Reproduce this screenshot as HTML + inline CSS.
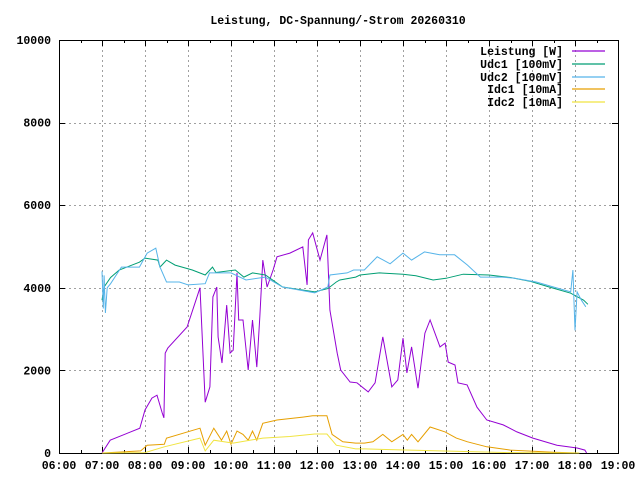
<!DOCTYPE html>
<html><head><meta charset="utf-8">
<style>
html,body{margin:0;padding:0;background:#fff;}
svg{display:block;}
text{font-family:"Liberation Mono",monospace;font-weight:bold;font-size:11.5px;fill:#000;}
</style></head>
<body>
<svg id="chart" width="640" height="480" xmlns="http://www.w3.org/2000/svg">
<text x="338" y="24" text-anchor="middle">Leistung, DC-Spannung/-Strom 20260310</text>
<g id="grid"></g>
<g id="axes"></g>
<g id="series"></g>
<g id="legend"></g>
</svg>
<script>
const yTicks=[0,2000,4000,6000,8000,10000];
const xTickHours=[6,7,8,9,10,11,12,13,14,15,16,17,18,19];
const xTickLabels=["06:00","07:00","08:00","09:00","10:00","11:00","12:00","13:00","14:00","15:00","16:00","17:00","18:00","19:00"];
const seriesNames=["Leistung [W]","Udc1 [100mV]","Udc2 [100mV]","Idc1 [10mA]","Idc2 [10mA]"];
const seriesColors=["#9400d3","#009e73","#56b4e9","#e69f00","#f0e442"];

const pT=[7.0,7.19,7.88,8.0,8.16,8.28,8.4,8.44,8.47,8.53,8.98,9.28,9.4,9.51,9.58,9.67,9.7,9.79,9.9,9.98,10.05,10.14,10.18,10.28,10.4,10.5,10.6,10.67,10.74,10.84,10.98,11.07,11.37,11.67,11.77,11.8,11.9,12.07,12.23,12.3,12.47,12.55,12.77,12.93,13.19,13.35,13.53,13.74,13.88,14.0,14.09,14.2,14.35,14.51,14.63,14.86,14.98,15.05,15.21,15.28,15.49,15.72,15.95,16.33,16.65,17.02,17.58,18.05,18.23,18.27];
const pV=[0,310,600,1040,1330,1400,970,850,2420,2540,3050,4000,1230,1600,3780,4020,2810,2180,3580,2420,2490,4360,3220,3220,2010,3220,2080,3290,4670,4020,4430,4750,4840,4990,4070,5160,5330,4670,5280,3460,2420,2010,1720,1700,1480,1700,2810,1600,1770,2780,1940,2570,1570,2900,3220,2570,2660,2200,2130,1700,1650,1110,800,680,510,360,190,120,70,0];

const u1T=[7.0,7.05,7.2,7.4,7.87,8.0,8.3,8.35,8.5,8.7,9.1,9.4,9.57,9.65,10.1,10.3,10.5,10.8,11.2,11.95,12.25,12.45,12.53,12.9,13.0,13.45,14.0,14.3,14.7,15.0,15.4,16.0,16.5,16.95,17.4,17.9,18.2,18.3];
const u1V=[3700,4020,4250,4430,4620,4720,4670,4500,4670,4550,4430,4310,4500,4370,4430,4260,4360,4310,4020,3900,3980,4140,4190,4260,4310,4360,4330,4290,4190,4230,4330,4310,4250,4160,4020,3870,3700,3600];

const u2T=[7.0,7.03,7.05,7.08,7.12,7.2,7.45,7.87,8.05,8.25,8.35,8.5,8.8,9.0,9.4,9.5,10.0,10.35,10.8,11.2,11.95,12.25,12.3,12.7,12.85,13.1,13.4,13.7,14.0,14.2,14.5,14.85,15.2,15.5,15.8,16.3,16.6,17.1,17.5,17.9,17.95,18.0,18.05,18.15,18.25];
const u2V=[4400,3500,4300,3390,4000,4100,4500,4500,4840,4960,4500,4140,4140,4070,4100,4360,4360,4190,4260,4020,3880,4020,4310,4360,4430,4430,4750,4580,4840,4670,4870,4800,4800,4550,4260,4260,4230,4140,4020,3900,4430,2970,3900,3700,3540];

const i1T=[7.0,7.9,8.05,8.45,8.5,9.28,9.4,9.6,9.78,9.9,10.0,10.14,10.28,10.4,10.5,10.6,10.74,11.07,11.67,11.9,12.23,12.35,12.6,12.9,13.1,13.3,13.53,13.74,14.0,14.1,14.2,14.35,14.63,14.98,15.24,15.5,15.95,16.5,17.5,18.1];
const i1V=[0,50,190,210,360,600,190,600,310,530,210,530,450,310,530,310,720,800,870,900,900,450,270,240,240,270,450,270,450,310,450,270,630,510,360,270,150,70,20,0];

const i2T=[7.0,8.0,8.45,9.28,9.4,9.6,10.05,10.74,11.37,11.95,12.23,12.45,12.9,13.1,14.85,16.5,18.1];
const i2V=[0,10,150,360,50,310,240,360,400,460,460,190,100,100,50,10,0];

const seriesT=[pT,u1T,u2T,i1T,i2T];
const seriesV=[pV,u1V,u2V,i1V,i2V];

const X0=59,X1=618,Y0=453,Y1=40;
function xs(h){return X0+(h-6)/13*(X1-X0);}
function ys(v){return Y0-v/10000*(Y0-Y1);}
const NS="http://www.w3.org/2000/svg";
function mk(tag,parent){const e=document.createElementNS(NS,tag);parent.appendChild(e);return e;}
const grid=document.getElementById('grid'),axes=document.getElementById('axes'),ser=document.getElementById('series'),leg=document.getElementById('legend');

xTickHours.forEach((h,i)=>{
  const x=Math.round(xs(h))+0.5;
  if(i>0&&i<xTickHours.length-1){
    const g=mk('line',grid);
    
    
    g.setAttribute('x1',x);g.setAttribute('x2',x);g.setAttribute('y1',Y1);g.setAttribute('y2',Y0);
    g.setAttribute('stroke','#a0a0a0');g.setAttribute('stroke-dasharray','2,3');
  }
  const t=mk('line',axes);
  
  
  t.setAttribute('x1',x);t.setAttribute('x2',x);t.setAttribute('y1',Y0);t.setAttribute('y2',Y0-6);t.setAttribute('stroke','#000');
  const t2=mk('line',axes);
  
  
  t2.setAttribute('x1',x);t2.setAttribute('x2',x);t2.setAttribute('y1',Y1);t2.setAttribute('y2',Y1+6);t2.setAttribute('stroke','#000');
  if(i<xTickHours.length-1){
    const xm=Math.round(xs(h+0.5))+0.5;
    [[Y0,Y0-3],[Y1,Y1+3]].forEach(p=>{
      const m=mk('line',axes);
      
      
      m.setAttribute('x1',xm);m.setAttribute('x2',xm);m.setAttribute('y1',p[0]);m.setAttribute('y2',p[1]);m.setAttribute('stroke','#000');
    });
  }
  const l=mk('text',axes);
  
  
  l.setAttribute('x',xs(h));l.setAttribute('y',469);l.setAttribute('text-anchor','middle');
  l.textContent=xTickLabels[i];
});
yTicks.forEach((v,i)=>{
  const y=Math.round(ys(v))+0.5;
  if(i>0&&i<yTicks.length-1){
    const g=mk('line',grid);
    
    
    g.setAttribute('x1',X0);g.setAttribute('x2',X1);g.setAttribute('y1',y);g.setAttribute('y2',y);
    g.setAttribute('stroke','#a0a0a0');g.setAttribute('stroke-dasharray','2,3');
  }
  [[X0,X0+6],[X1,X1-6]].forEach(p=>{
    const t=mk('line',axes);
    
    
    t.setAttribute('x1',p[0]);t.setAttribute('x2',p[1]);t.setAttribute('y1',y);t.setAttribute('y2',y);t.setAttribute('stroke','#000');
  });
  const l=mk('text',axes);
  
  
  l.setAttribute('x',51);l.setAttribute('y',ys(v)+4);l.setAttribute('text-anchor','end');
  l.textContent=String(v);
});
const border=mk('rect',axes);


border.setAttribute('x',X0+0.5);border.setAttribute('y',Y1+0.5);border.setAttribute('width',X1-X0);border.setAttribute('height',Y0-Y1);
border.setAttribute('fill','none');border.setAttribute('stroke','#000');

seriesT.forEach((T,s)=>{
  const pl=mk('polyline',ser);
  
  
  pl.setAttribute('points',T.map((h,i)=>xs(h).toFixed(1)+','+ys(seriesV[s][i]).toFixed(1)).join(' '));
  pl.setAttribute('fill','none');pl.setAttribute('stroke',seriesColors[s]);pl.setAttribute('stroke-width','1');
});

seriesNames.forEach((n,i)=>{
  const y=Math.round(51+i*12.8);
  const t=mk('text',leg);
  
  
  t.setAttribute('x',563);t.setAttribute('y',y+4);t.setAttribute('text-anchor','end');
  t.textContent=n;
  const l=mk('line',leg);
  
  
  l.setAttribute('x1',572);l.setAttribute('x2',605);l.setAttribute('y1',y);l.setAttribute('y2',y);
  l.setAttribute('stroke',seriesColors[i]);l.setAttribute('stroke-width','1.3');
});
</script>
</body></html>
